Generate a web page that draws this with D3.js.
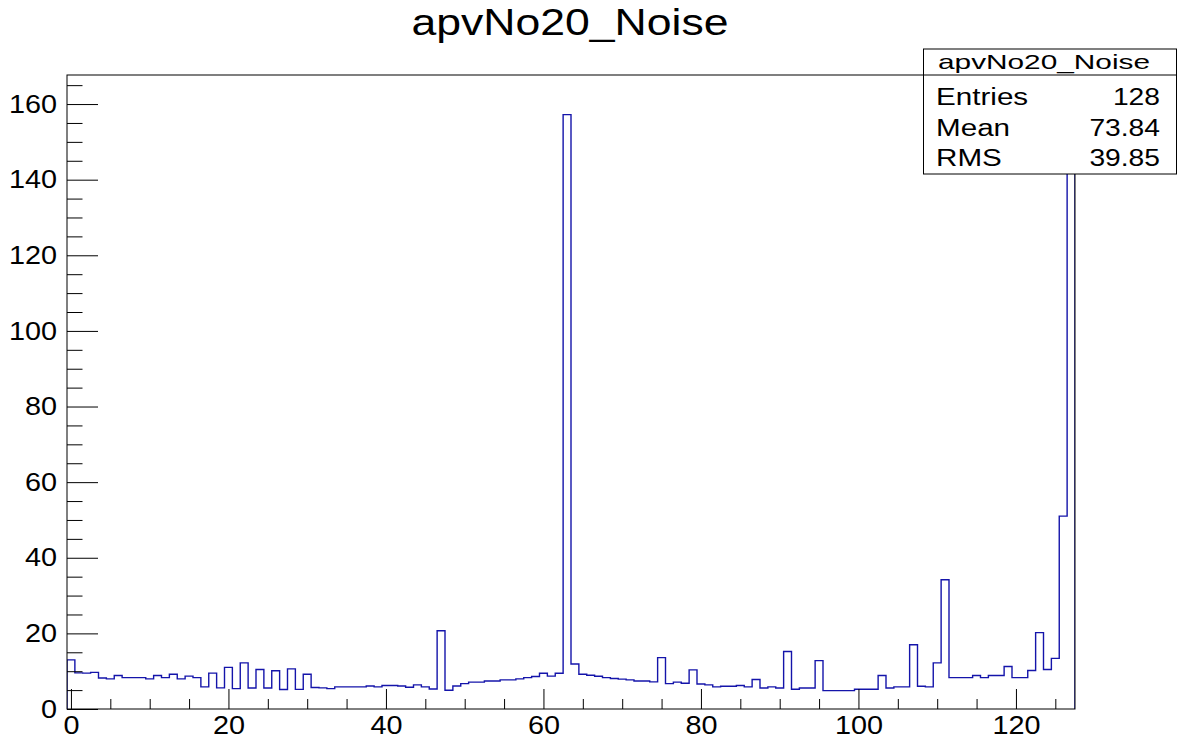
<!DOCTYPE html>
<html>
<head>
<meta charset="utf-8">
<script src="https://cdn.jsdelivr.net/npm/d3@7"></script>
<style>
  body { margin: 0; background: #fff; }
  svg { display: block; font-family: "Liberation Sans", Arial, sans-serif; }
</style>
</head>
<body>
<div id="chart"></div>
<script>
// histogram bin contents, channel 0..127
const binValues = [
  13.0, 9.55, 9.5, 9.7, 8.2, 7.96, 8.85, 8.3, 8.3, 8.3,
  7.96, 8.85, 8.3, 9.2, 7.96, 8.7, 8.3, 5.85, 9.5, 5.6,
  11.0, 5.4, 12.2, 5.57, 10.45, 5.57, 10.1, 5.14, 10.6, 5.2,
  9.2, 5.7, 5.6, 5.4, 5.85, 5.85, 5.85, 5.85, 6.1, 5.85,
  6.2, 6.2, 6.1, 5.76, 6.37, 5.85, 5.3, 20.7, 4.96, 6.1,
  6.7, 7.1, 7.1, 7.4, 7.4, 7.7, 7.7, 7.96, 8.3, 8.6,
  9.47, 8.7, 9.47, 157.2, 11.9, 9.2, 8.94, 8.67, 8.3, 8.05,
  7.9, 7.7, 7.4, 7.4, 7.17, 13.6, 6.7, 7.1, 6.8, 10.35,
  6.6, 6.37, 5.85, 6.0, 6.0, 6.2, 5.85, 7.8, 5.57, 5.85,
  5.57, 15.2, 5.22, 5.57, 5.57, 12.8, 4.87, 4.87, 4.87, 4.87,
  5.22, 5.22, 5.22, 8.85, 5.57, 5.85, 5.85, 17.0, 6.0, 5.85,
  12.2, 34.2, 8.3, 8.3, 8.3, 8.85, 8.3, 8.85, 8.85, 11.25,
  8.3, 8.3, 10.2, 20.2, 10.45, 13.4, 51.0, 159.7
];
const histName = 'apvNo20_Noise';
const statLabels = ['Entries', 'Mean', 'RMS'];
const statValues = ['128', '73.84', '39.85'];
const xMajorTicks = [0, 20, 40, 60, 80, 100, 120];
const yMajorTicks = [0, 20, 40, 60, 80, 100, 120, 140, 160];

const W = 1178, H = 740;
const frame = { left: 67, right: 1075, top: 75, bottom: 709 };

const svg = d3.select('#chart').append('svg')
  .attr('width', W)
  .attr('height', H);

svg.append('rect').attr('width', W).attr('height', H).attr('fill', '#fff');

// scales: bins centred on integers, ROOT-style 5% top margin
const x = d3.scaleLinear()
  .domain([-0.5, binValues.length - 0.5])
  .range([frame.left, frame.right]);
const yMax = d3.max(binValues) * 1.05;
const y = d3.scaleLinear()
  .domain([0, yMax])
  .range([frame.bottom, frame.top]);

// stretch helper: the original text is drawn a bit wider than the font
function stretch(sel, k) {
  sel.each(function () {
    const w = this.getComputedTextLength();
    d3.select(this).attr('textLength', w * k).attr('lengthAdjust', 'spacingAndGlyphs');
  });
}

// histogram outline
const pts = [[-0.5, 0]];
binValues.forEach((v, i) => {
  pts.push([i - 0.5, v]);
  pts.push([i + 0.5, v]);
});
pts.push([binValues.length - 0.5, 0]);

const line = d3.line()
  .x(d => x(d[0]))
  .y(d => y(d[1]));

svg.append('clipPath').attr('id', 'clip')
  .append('rect')
  .attr('x', frame.left).attr('y', frame.top)
  .attr('width', frame.right - frame.left)
  .attr('height', frame.bottom - frame.top);

svg.append('path')
  .datum(pts)
  .attr('clip-path', 'url(#clip)')
  .attr('fill', 'none')
  .attr('stroke', '#1414aa')
  .attr('stroke-width', 1.4)
  .attr('d', line);

// axes
const xMinor = d3.range(0, 126, 5).filter(d => d % 20 !== 0);
const yMinor = d3.range(0, yMax, 5).filter(d => d % 20 !== 0);

const xAxisG = svg.append('g')
  .attr('class', 'axis x-axis')
  .attr('transform', `translate(0,${frame.bottom})`);
xAxisG.append('g').call(d3.axisBottom(x)
  .tickValues(xMinor).tickSizeInner(-10).tickSizeOuter(0).tickFormat(''));
xAxisG.append('g').call(d3.axisBottom(x)
  .tickValues(xMajorTicks).tickSizeInner(-20).tickSizeOuter(0).tickPadding(7));

const yAxisG = svg.append('g')
  .attr('class', 'axis y-axis')
  .attr('transform', `translate(${frame.left},0)`);
yAxisG.append('g').call(d3.axisLeft(y)
  .tickValues(yMinor).tickSizeInner(-15.5).tickSizeOuter(0).tickFormat(''));
yAxisG.append('g').call(d3.axisLeft(y)
  .tickValues(yMajorTicks).tickSizeInner(-31).tickSizeOuter(0).tickPadding(10));

svg.selectAll('.axis .domain').remove();
svg.selectAll('.axis line').attr('stroke', '#000').attr('stroke-width', 1);
svg.selectAll('.axis text')
  .attr('font-family', '"Liberation Sans", Arial, sans-serif')
  .attr('font-size', 25.5)
  .attr('fill', '#000')
  .call(stretch, 1.13);

// frame
svg.append('rect')
  .attr('x', frame.left).attr('y', frame.top)
  .attr('width', frame.right - frame.left)
  .attr('height', frame.bottom - frame.top)
  .attr('fill', 'none')
  .attr('stroke', '#000')
  .attr('stroke-width', 1);

// title
svg.append('text')
  .attr('x', 570)
  .attr('y', 35)
  .attr('text-anchor', 'middle')
  .attr('font-size', 37)
  .attr('textLength', 317)
  .attr('lengthAdjust', 'spacingAndGlyphs')
  .text(histName);

// stats box
const box = { x: 923.5, y: 49, w: 253, h: 125, div: 75 };
const stats = svg.append('g').attr('class', 'stats');
stats.append('rect')
  .attr('x', box.x).attr('y', box.y)
  .attr('width', box.w).attr('height', box.h)
  .attr('fill', '#fff')
  .attr('stroke', '#000')
  .attr('stroke-width', 1);
stats.append('line')
  .attr('x1', box.x).attr('x2', box.x + box.w)
  .attr('y1', box.div).attr('y2', box.div)
  .attr('stroke', '#000');
stats.append('text')
  .attr('x', 1044)
  .attr('y', 69)
  .attr('text-anchor', 'middle')
  .attr('font-size', 21)
  .attr('textLength', 212)
  .attr('lengthAdjust', 'spacingAndGlyphs')
  .text(histName);

const rowY = d3.scalePoint().domain(statLabels).range([105, 166]);
stats.selectAll('.slabel')
  .data(statLabels)
  .join('text')
  .attr('class', 'slabel')
  .attr('x', 936)
  .attr('y', d => rowY(d))
  .attr('font-size', 23.5)
  .text(d => d)
  .call(stretch, 1.26);
stats.selectAll('.svalue')
  .data(statValues)
  .join('text')
  .attr('class', 'svalue')
  .attr('x', 1160)
  .attr('y', (d, i) => rowY(statLabels[i]))
  .attr('text-anchor', 'end')
  .attr('font-size', 23.5)
  .text(d => d)
  .call(stretch, 1.2);
</script>
</body>
</html>
